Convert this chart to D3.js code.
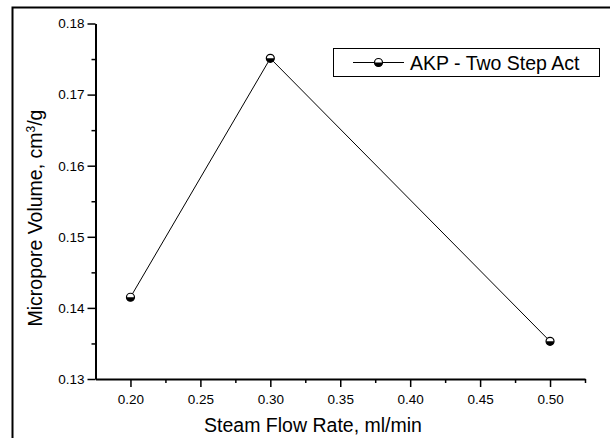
<!DOCTYPE html>
<html><head><meta charset="utf-8">
<script src="https://cdn.jsdelivr.net/npm/d3@7"></script>
<style>body{margin:0;background:#fff}svg{display:block;font-family:Arial,"Liberation Sans",sans-serif}</style>
</head><body>
<svg id="c" width="610" height="438"></svg>
<script>
const flowRates = [0.20, 0.30, 0.50];
const microporeVolume = [0.1415, 0.1751, 0.1353];
const seriesName = "AKP - Two Step Act";
const xTicks = [0.20, 0.25, 0.30, 0.35, 0.40, 0.45, 0.50];
const xMinor = [0.225, 0.275, 0.325, 0.375, 0.425, 0.475, 0.525];
const yTicks = [0.13, 0.14, 0.15, 0.16, 0.17, 0.18];
const yMinor = [0.135, 0.145, 0.155, 0.165, 0.175];

const svg = d3.select("#c");
const x = d3.scaleLinear().domain([0.175, 0.525]).range([95.5, 585]);
const y = d3.scaleLinear().domain([0.13, 0.18]).range([379, 23.5]);

// outer frame
svg.append("path").attr("d", "M12.5,438 V7.5 H610").attr("fill", "none").attr("stroke", "#000").attr("stroke-width", 2);

// x axis
const gx = svg.append("g").attr("transform", `translate(0,${y(0.13)})`);
gx.call(d3.axisBottom(x).tickValues(xTicks).tickFormat(d3.format(".2f")).tickSize(8).tickSizeOuter(0));
gx.append("g").call(d3.axisBottom(x).tickValues(xMinor).tickFormat("").tickSize(4).tickSizeOuter(0)).select(".domain").remove();
gx.selectAll(".domain").attr("stroke-width", 2);
gx.selectAll("line").attr("stroke-width", 1.5);
gx.selectAll("text").attr("font-size", 13.5).attr("fill", "#000").attr("font-family", "Arial, 'Liberation Sans', sans-serif").attr("dy", "1.05em");

// y axis
const gy = svg.append("g").attr("transform", `translate(${x(0.175)},0)`);
gy.call(d3.axisLeft(y).tickValues(yTicks).tickFormat(d3.format(".2f")).tickSize(8).tickSizeOuter(0));
gy.append("g").call(d3.axisLeft(y).tickValues(yMinor).tickFormat("").tickSize(4).tickSizeOuter(0)).select(".domain").remove();
gy.selectAll(".domain").attr("stroke-width", 2);
gy.selectAll("line").attr("stroke-width", 1.5);
gy.selectAll("text").attr("font-size", 13.5).attr("fill", "#000").attr("font-family", "Arial, 'Liberation Sans', sans-serif").attr("x", -11);

// line
const pts = flowRates.map((f, i) => [f, microporeVolume[i]]);
svg.append("path").datum(pts)
  .attr("d", d3.line().x(d => x(d[0])).y(d => y(d[1])))
  .attr("fill", "none").attr("stroke", "#000").attr("stroke-width", 1);

function marker(g, cx, cy, r) {
  g.append("circle").attr("cx", cx).attr("cy", cy).attr("r", r).attr("fill", "#fff").attr("stroke", "none");
  g.append("path").attr("d", `M${cx - r},${cy} A${r},${r} 0 0 0 ${cx + r},${cy} Z`).attr("fill", "#000");
  g.append("circle").attr("cx", cx).attr("cy", cy).attr("r", r).attr("fill", "none").attr("stroke", "#000").attr("stroke-width", 1.2);
}
const mg = svg.append("g");
pts.forEach(d => marker(mg, x(d[0]), y(d[1]), 4));

// legend
const lg = svg.append("g");
lg.append("rect").attr("x", 333.5).attr("y", 48.5).attr("width", 266).attr("height", 28).attr("fill", "#fff").attr("stroke", "#000").attr("stroke-width", 1);
lg.append("line").attr("x1", 353).attr("x2", 404).attr("y1", 62.5).attr("y2", 62.5).attr("stroke", "#000").attr("stroke-width", 1);
marker(lg, 378.5, 62.5, 4);
lg.append("text").attr("x", 410).attr("y", 69.5).attr("font-size", 19.5).text(seriesName);

// axis titles
svg.append("text").attr("x", 313).attr("y", 432).attr("text-anchor", "middle").attr("font-size", 19.5).text("Steam Flow Rate, ml/min");
const yt = svg.append("text").attr("transform", "translate(42,218) rotate(-90)").attr("text-anchor", "middle").attr("font-size", 19.5);
yt.append("tspan").text("Micropore Volume, cm");
yt.append("tspan").attr("dy", -7).attr("font-size", 12).text("3");
yt.append("tspan").attr("dy", 7).text("/g");
</script>
</body></html>
